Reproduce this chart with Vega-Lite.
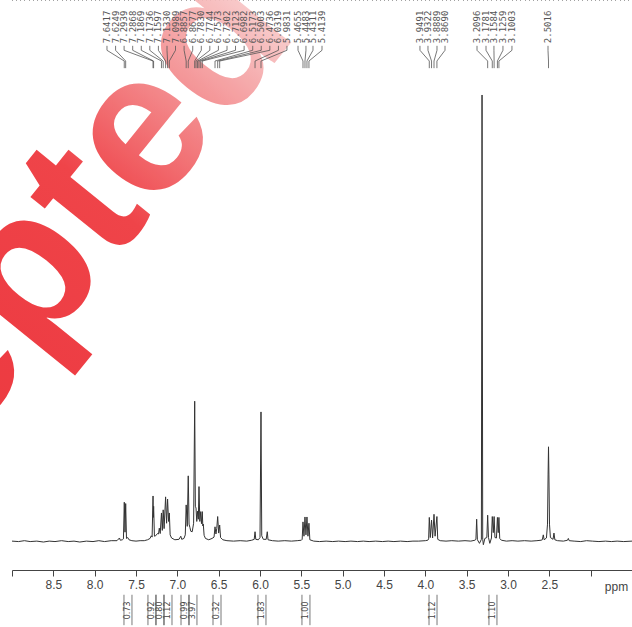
{
  "$schema": "https://vega.github.io/schema/vega-lite/v6.json",
  "width": 620,
  "height": 570,
  "autosize": {"type": "none"},
  "padding": {"left": 12, "top": 0, "right": 0, "bottom": 57},
  "background": "white",
  "config": {"view": {"stroke": null}},
  "resolve": {"axis": {"x": "independent", "y": "independent"}},
  "datasets": {
    "spectrum": [
      {"ppm":9.00,"i":0.2},{"ppm":8.92,"i":0.1},{"ppm":8.85,"i":0.3},{"ppm":8.78,"i":0.1},{"ppm":8.70,"i":0.2},{"ppm":8.62,"i":0.0},{"ppm":8.55,"i":0.2},{"ppm":8.48,"i":0.1},{"ppm":8.40,"i":0.3},{"ppm":8.32,"i":0.1},{"ppm":8.25,"i":0.2},{"ppm":8.18,"i":0.0},{"ppm":8.10,"i":0.2},{"ppm":8.02,"i":0.1},{"ppm":7.95,"i":0.3},{"ppm":7.88,"i":0.1},{"ppm":7.80,"i":0.3},{"ppm":7.73,"i":0.3},{"ppm":7.70,"i":0.9},{"ppm":7.69,"i":0.4},{"ppm":7.665,"i":0.5},{"ppm":7.652,"i":0.7},{"ppm":7.6417,"i":8.9},{"ppm":7.633,"i":2.2},{"ppm":7.6249,"i":8.6},{"ppm":7.615,"i":0.8},{"ppm":7.60,"i":1.0},{"ppm":7.585,"i":0.5},{"ppm":7.55,"i":0.3},{"ppm":7.50,"i":0.2},{"ppm":7.45,"i":0.3},{"ppm":7.40,"i":0.3},{"ppm":7.36,"i":0.5},{"ppm":7.33,"i":0.8},{"ppm":7.315,"i":1.4},{"ppm":7.305,"i":1.1},{"ppm":7.2939,"i":10.3},{"ppm":7.2905,"i":5.5},{"ppm":7.2868,"i":8.0},{"ppm":7.277,"i":1.3},{"ppm":7.262,"i":1.4},{"ppm":7.240,"i":1.9},{"ppm":7.228,"i":1.8},{"ppm":7.218,"i":3.1},{"ppm":7.207,"i":1.9},{"ppm":7.192,"i":6.5},{"ppm":7.182,"i":2.6},{"ppm":7.171,"i":7.2},{"ppm":7.160,"i":3.0},{"ppm":7.142,"i":10.1},{"ppm":7.130,"i":4.2},{"ppm":7.118,"i":9.6},{"ppm":7.106,"i":4.6},{"ppm":7.097,"i":6.5},{"ppm":7.087,"i":1.6},{"ppm":7.07,"i":0.9},{"ppm":7.03,"i":0.5},{"ppm":6.98,"i":0.6},{"ppm":6.958,"i":1.3},{"ppm":6.947,"i":0.6},{"ppm":6.92,"i":0.8},{"ppm":6.904,"i":1.6},{"ppm":6.893,"i":8.3},{"ppm":6.880,"i":3.5},{"ppm":6.868,"i":14.8},{"ppm":6.858,"i":4.0},{"ppm":6.847,"i":3.2},{"ppm":6.837,"i":2.4},{"ppm":6.82,"i":2.3},{"ppm":6.803,"i":4.2},{"ppm":6.790,"i":31.5},{"ppm":6.782,"i":8.0},{"ppm":6.774,"i":7.6},{"ppm":6.765,"i":4.6},{"ppm":6.755,"i":6.9},{"ppm":6.746,"i":5.1},{"ppm":6.738,"i":12.4},{"ppm":6.728,"i":4.6},{"ppm":6.717,"i":6.8},{"ppm":6.708,"i":4.1},{"ppm":6.698,"i":6.8},{"ppm":6.692,"i":3.6},{"ppm":6.686,"i":4.0},{"ppm":6.676,"i":1.5},{"ppm":6.66,"i":0.8},{"ppm":6.62,"i":0.5},{"ppm":6.58,"i":0.8},{"ppm":6.556,"i":1.1},{"ppm":6.544,"i":3.4},{"ppm":6.533,"i":1.8},{"ppm":6.523,"i":3.0},{"ppm":6.512,"i":5.7},{"ppm":6.500,"i":2.0},{"ppm":6.488,"i":3.8},{"ppm":6.477,"i":1.0},{"ppm":6.45,"i":0.5},{"ppm":6.40,"i":0.3},{"ppm":6.32,"i":0.2},{"ppm":6.24,"i":0.3},{"ppm":6.16,"i":0.2},{"ppm":6.10,"i":0.4},{"ppm":6.07,"i":0.6},{"ppm":6.060,"i":2.3},{"ppm":6.051,"i":0.6},{"ppm":6.02,"i":0.5},{"ppm":6.000,"i":1.0},{"ppm":5.988,"i":29.1},{"ppm":5.979,"i":1.4},{"ppm":5.960,"i":0.6},{"ppm":5.925,"i":0.6},{"ppm":5.912,"i":2.3},{"ppm":5.903,"i":0.5},{"ppm":5.85,"i":0.3},{"ppm":5.78,"i":0.2},{"ppm":5.70,"i":0.3},{"ppm":5.62,"i":0.2},{"ppm":5.55,"i":0.3},{"ppm":5.50,"i":0.4},{"ppm":5.490,"i":0.6},{"ppm":5.480,"i":4.5},{"ppm":5.468,"i":1.3},{"ppm":5.456,"i":5.6},{"ppm":5.444,"i":1.6},{"ppm":5.432,"i":5.6},{"ppm":5.420,"i":1.3},{"ppm":5.408,"i":4.2},{"ppm":5.397,"i":0.5},{"ppm":5.35,"i":0.2},{"ppm":5.28,"i":0.1},{"ppm":5.20,"i":0.2},{"ppm":5.12,"i":0.1},{"ppm":5.05,"i":0.2},{"ppm":4.97,"i":0.1},{"ppm":4.90,"i":0.2},{"ppm":4.82,"i":0.1},{"ppm":4.75,"i":0.2},{"ppm":4.68,"i":0.1},{"ppm":4.60,"i":0.2},{"ppm":4.52,"i":0.1},{"ppm":4.45,"i":0.2},{"ppm":4.38,"i":0.1},{"ppm":4.30,"i":0.2},{"ppm":4.22,"i":0.1},{"ppm":4.15,"i":0.2},{"ppm":4.08,"i":0.2},{"ppm":4.00,"i":0.3},{"ppm":3.97,"i":0.4},{"ppm":3.960,"i":0.7},{"ppm":3.952,"i":5.5},{"ppm":3.940,"i":1.0},{"ppm":3.925,"i":4.9},{"ppm":3.912,"i":0.9},{"ppm":3.895,"i":6.2},{"ppm":3.882,"i":1.3},{"ppm":3.860,"i":5.7},{"ppm":3.850,"i":0.6},{"ppm":3.82,"i":0.3},{"ppm":3.75,"i":0.2},{"ppm":3.68,"i":0.3},{"ppm":3.60,"i":0.2},{"ppm":3.52,"i":0.3},{"ppm":3.45,"i":0.2},{"ppm":3.40,"i":0.4},{"ppm":3.388,"i":0.6},{"ppm":3.379,"i":5.1},{"ppm":3.370,"i":0.5},{"ppm":3.345,"i":-0.3},{"ppm":3.322,"i":0.6},{"ppm":3.314,"i":100},{"ppm":3.306,"i":0.6},{"ppm":3.298,"i":-0.6},{"ppm":3.280,"i":0.8},{"ppm":3.256,"i":1.0},{"ppm":3.246,"i":6.0},{"ppm":3.236,"i":1.0},{"ppm":3.220,"i":-0.3},{"ppm":3.200,"i":0.9},{"ppm":3.190,"i":5.7},{"ppm":3.178,"i":2.1},{"ppm":3.168,"i":5.7},{"ppm":3.158,"i":1.0},{"ppm":3.140,"i":0.9},{"ppm":3.128,"i":5.5},{"ppm":3.118,"i":2.1},{"ppm":3.110,"i":5.5},{"ppm":3.100,"i":0.8},{"ppm":3.08,"i":0.4},{"ppm":3.02,"i":0.2},{"ppm":2.95,"i":0.3},{"ppm":2.88,"i":0.2},{"ppm":2.80,"i":0.3},{"ppm":2.72,"i":0.2},{"ppm":2.65,"i":0.3},{"ppm":2.60,"i":0.4},{"ppm":2.585,"i":0.5},{"ppm":2.573,"i":1.6},{"ppm":2.563,"i":0.5},{"ppm":2.535,"i":0.9},{"ppm":2.522,"i":4.0},{"ppm":2.515,"i":15.0},{"ppm":2.510,"i":21.3},{"ppm":2.505,"i":15.0},{"ppm":2.498,"i":4.0},{"ppm":2.487,"i":1.0},{"ppm":2.455,"i":0.6},{"ppm":2.444,"i":2.0},{"ppm":2.433,"i":0.5},{"ppm":2.40,"i":0.3},{"ppm":2.33,"i":0.2},{"ppm":2.280,"i":0.4},{"ppm":2.270,"i":0.8},{"ppm":2.260,"i":0.3},{"ppm":2.20,"i":0.2},{"ppm":2.12,"i":0.1},{"ppm":2.05,"i":0.3},{"ppm":1.98,"i":0.2},{"ppm":1.90,"i":0.1},{"ppm":1.82,"i":0.2},{"ppm":1.75,"i":0.1},{"ppm":1.68,"i":0.2},{"ppm":1.60,"i":0.1},{"ppm":1.50,"i":0.2}
    ],
    "peaks": [
      {"label":"7.6417","labelPpm":7.851,"peakPpm":7.642},
      {"label":"7.6249","labelPpm":7.747,"peakPpm":7.625},
      {"label":"7.2939","labelPpm":7.644,"peakPpm":7.294},
      {"label":"7.2868","labelPpm":7.540,"peakPpm":7.287},
      {"label":"7.1869","labelPpm":7.436,"peakPpm":7.192},
      {"label":"7.1736","labelPpm":7.333,"peakPpm":7.171},
      {"label":"7.1597","labelPpm":7.229,"peakPpm":7.142},
      {"label":"7.1330","labelPpm":7.125,"peakPpm":7.118},
      {"label":"7.0989","labelPpm":7.022,"peakPpm":7.097},
      {"label":"6.8857","labelPpm":6.918,"peakPpm":6.893},
      {"label":"6.8677","labelPpm":6.814,"peakPpm":6.868},
      {"label":"6.7830","labelPpm":6.710,"peakPpm":6.790},
      {"label":"6.7744","labelPpm":6.607,"peakPpm":6.774},
      {"label":"6.7573","labelPpm":6.503,"peakPpm":6.755},
      {"label":"6.7302","labelPpm":6.399,"peakPpm":6.738},
      {"label":"6.7123","labelPpm":6.296,"peakPpm":6.717},
      {"label":"6.6982","labelPpm":6.192,"peakPpm":6.698},
      {"label":"6.5173","labelPpm":6.088,"peakPpm":6.544},
      {"label":"6.5003","labelPpm":5.985,"peakPpm":6.512},
      {"label":"6.4736","labelPpm":5.881,"peakPpm":6.488},
      {"label":"6.0319","labelPpm":5.777,"peakPpm":6.060},
      {"label":"5.9831","labelPpm":5.674,"peakPpm":5.988},
      {"label":"5.4655","labelPpm":5.540,"peakPpm":5.480},
      {"label":"5.4483","labelPpm":5.444,"peakPpm":5.456},
      {"label":"5.4311","labelPpm":5.359,"peakPpm":5.432},
      {"label":"5.4139","labelPpm":5.250,"peakPpm":5.408},
      {"label":"3.9491","labelPpm":4.065,"peakPpm":3.952},
      {"label":"3.9322","labelPpm":3.968,"peakPpm":3.925},
      {"label":"3.8889","labelPpm":3.859,"peakPpm":3.895},
      {"label":"3.8690","labelPpm":3.762,"peakPpm":3.860},
      {"label":"3.2096","labelPpm":3.375,"peakPpm":3.246},
      {"label":"3.1781","labelPpm":3.266,"peakPpm":3.190},
      {"label":"3.1584","labelPpm":3.170,"peakPpm":3.168},
      {"label":"3.1259","labelPpm":3.061,"peakPpm":3.128},
      {"label":"3.1003","labelPpm":2.952,"peakPpm":3.110},
      {"label":"2.5016","labelPpm":2.516,"peakPpm":2.510}
    ],
    "integrals": [
      {"ppm":7.597,"value":"0.73"},
      {"ppm":7.307,"value":"0.92"},
      {"ppm":7.210,"value":"0.80"},
      {"ppm":7.113,"value":"1.12"},
      {"ppm":6.907,"value":"0.99"},
      {"ppm":6.811,"value":"3.97"},
      {"ppm":6.520,"value":"0.32"},
      {"ppm":5.976,"value":"1.83"},
      {"ppm":5.444,"value":"1.00"},
      {"ppm":3.907,"value":"1.12"},
      {"ppm":3.182,"value":"1.10"}
    ]
  },
  "layer": [
    {
      "data": {"values": [{"t": "Accepted"}]},
      "mark": {
        "type": "text", "angle": -51, "align": "center", "baseline": "alphabetic",
        "font": "Liberation Sans", "fontWeight": "bold", "fontSize": 200,
        "fill": {"gradient": "linear", "x1": 0, "y1": 0, "x2": 1, "y2": 0,
          "stops": [{"offset": 0, "color": "#e8141c"}, {"offset": 0.72, "color": "#ee3036"}, {"offset": 0.88, "color": "#f38c8e"}, {"offset": 1, "color": "#f9cccc"}]},
        "opacity": 0.9
      },
      "encoding": {
        "x": {"datum": 8.946, "type": "quantitative", "axis": null},
        "y": {"datum": 35.8, "type": "quantitative", "axis": null},
        "text": {"field": "t"}
      }
    },
    {
      "data": {"name": "spectrum"},
      "mark": {"type": "line", "color": "#333333", "strokeWidth": 1, "interpolate": "linear"},
      "encoding": {
        "x": {
          "field": "ppm", "type": "quantitative",
          "scale": {"domain": [1.5, 9.0], "reverse": true, "nice": false, "zero": false},
          "axis": {
            "title": "ppm",
            "values": [9.0, 8.5, 8.0, 7.5, 7.0, 6.5, 6.0, 5.5, 5.0, 4.5, 4.0, 3.5, 3.0, 2.5, 2.0, 1.5],
            "grid": false,
            "labelExpr": "datum.value > 2.4 && datum.value < 8.6 ? format(datum.value, '.1f') : ''",
            "labelOverlap": false,
            "labelFlush": false,
            "tickSize": 6,
            "domainColor": "#444444",
            "tickColor": "#444444",
            "labelColor": "#444444",
            "labelFont": "Liberation Sans",
            "labelFontSize": 12,
            "labelPadding": 3,
            "titleFont": "Liberation Sans",
            "titleFontSize": 12,
            "titleFontWeight": "normal",
            "titleColor": "#444444",
            "titleX": 604,
            "titleY": 16,
            "titleAlign": "center",
            "titleBaseline": "middle",
            "titleAngle": 0
          }
        },
        "y": {
          "field": "i", "type": "quantitative",
          "scale": {"domain": [-6.26, 121.25], "nice": false, "zero": false},
          "axis": null
        }
      }
    },
    {
      "data": {"name": "peaks"},
      "mark": {"type": "rule", "color": "#555555", "strokeWidth": 0.8},
      "encoding": {
        "x": {"field": "labelPpm", "type": "quantitative", "axis": null},
        "y": {"datum": 111.0, "type": "quantitative", "axis": null},
        "y2": {"datum": 110.0}
      }
    },
    {
      "data": {"name": "peaks"},
      "mark": {"type": "rule", "color": "#555555", "strokeWidth": 0.8},
      "encoding": {
        "x": {"field": "labelPpm", "type": "quantitative", "axis": null},
        "x2": {"field": "peakPpm"},
        "y": {"datum": 110.0, "type": "quantitative", "axis": null},
        "y2": {"datum": 107.6}
      }
    },
    {
      "data": {"name": "peaks"},
      "mark": {"type": "rule", "color": "#555555", "strokeWidth": 0.8},
      "encoding": {
        "x": {"field": "peakPpm", "type": "quantitative", "axis": null},
        "y": {"datum": 107.6, "type": "quantitative", "axis": null},
        "y2": {"datum": 106.0}
      }
    },
    {
      "data": {"name": "peaks"},
      "mark": {"type": "text", "angle": 270, "align": "left", "baseline": "middle", "font": "DejaVu Sans Mono", "fontSize": 9, "color": "#555555"},
      "encoding": {
        "x": {"field": "labelPpm", "type": "quantitative", "axis": null},
        "y": {"datum": 111.6, "type": "quantitative", "axis": null},
        "text": {"field": "label"}
      }
    },
    {
      "data": {"name": "integrals"},
      "mark": {"type": "text", "angle": 270, "align": "center", "baseline": "middle", "font": "DejaVu Sans", "fontSize": 8, "color": "#444444"},
      "encoding": {
        "x": {"field": "ppm", "type": "quantitative", "axis": null},
        "y": {"datum": -15.3, "type": "quantitative", "axis": null},
        "text": {"field": "value"}
      }
    },
    {
      "data": {"name": "integrals"},
      "mark": {"type": "rule", "color": "#555555", "strokeWidth": 0.8, "xOffset": -4},
      "encoding": {
        "x": {"field": "ppm", "type": "quantitative", "axis": null},
        "y": {"datum": -11.8, "type": "quantitative", "axis": null},
        "y2": {"datum": -18.6}
      }
    },
    {
      "data": {"name": "integrals"},
      "mark": {"type": "rule", "color": "#555555", "strokeWidth": 0.8, "xOffset": 4},
      "encoding": {
        "x": {
          "field": "ppm", "type": "quantitative",
          "axis": {"title": null, "tickCount": 150, "labels": false, "domain": false, "grid": false, "tickSize": 3, "tickColor": "#444444"}
        },
        "y": {"datum": -11.8, "type": "quantitative", "axis": null},
        "y2": {"datum": -18.6}
      }
    }
  ]
}
